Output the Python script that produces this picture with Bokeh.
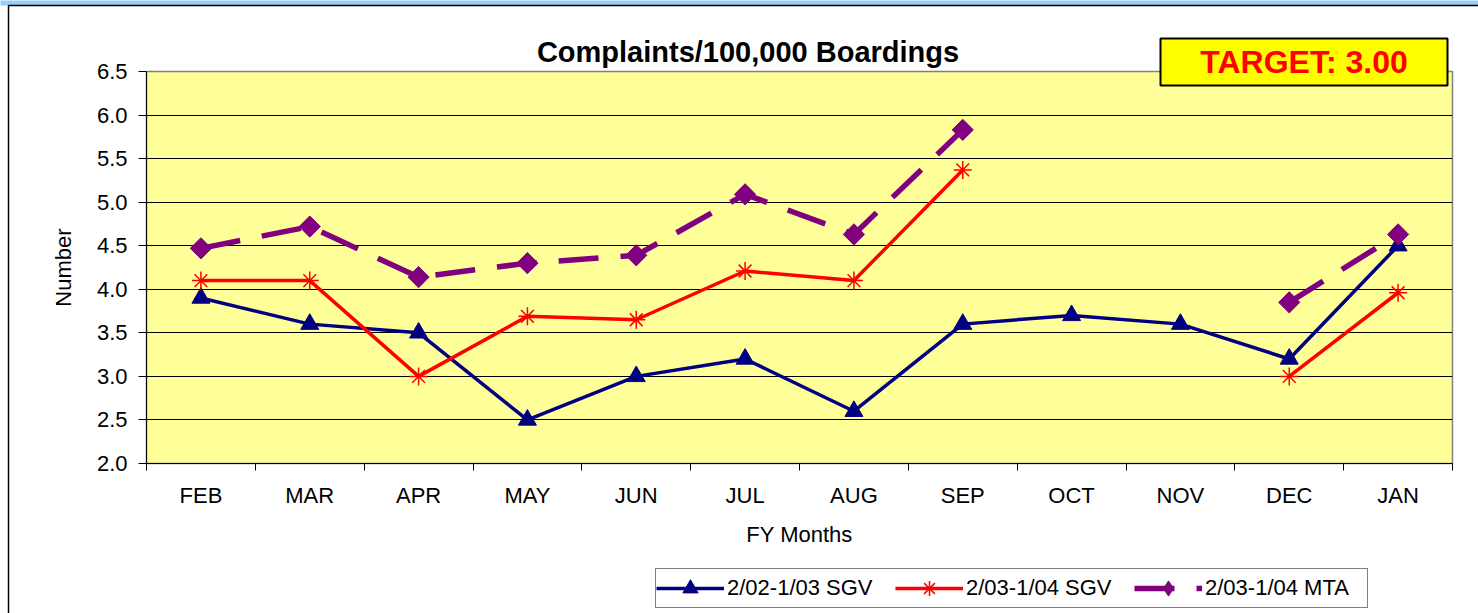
import math
from bokeh.plotting import figure
from bokeh.models import (FixedTicker, Label, Legend, LegendItem, ColumnDataSource,
                          BoxAnnotation, GridBox, Range1d, Column)
from bokeh.embed import file_html
from bokeh.resources import INLINE

# ---- data ----
months = ["FEB", "MAR", "APR", "MAY", "JUN", "JUL", "AUG", "SEP", "OCT", "NOV", "DEC", "JAN"]
nan = float("nan")
sgv_0203 = [3.9, 3.6, 3.5, 2.5, 3.0, 3.2, 2.6, 3.6, 3.7, 3.6, 3.2, 4.5]
sgv_0304 = [4.1, 4.1, 3.0, 3.69, 3.65, 4.21, 4.1, 5.37, nan, nan, 3.0, 3.96]
mta_0304 = [4.47, 4.72, 4.14, 4.30, 4.39, 5.09, 4.63, 5.83, nan, nan, 3.85, 4.63]
y_ticks = [2.0, 2.5, 3.0, 3.5, 4.0, 4.5, 5.0, 5.5, 6.0, 6.5]
y_tick_labels = ["2.0", "2.5", "3.0", "3.5", "4.0", "4.5", "5.0", "5.5", "6.0", "6.5"]
series_names = ["2/02-1/03 SGV", "2/03-1/04 SGV", "2/03-1/04 MTA"]
title_text = "Complaints/100,000 Boardings"
target_text = "TARGET: 3.00"

FONT = "Liberation Sans"
W, H = 1478, 613
FX0, FX1, FY0, FY1 = 146, 1452, 71, 463
YMIN, YMAX = 2.0, 6.5
NX = len(months)

STYLE = {
    "a": dict(line=dict(line_color="#000080", line_width=3.5),
              mark=dict(marker="triangle", size=18, fill_color="#000080", line_color="#000080")),
    "b": dict(line=dict(line_color="#FF0000", line_width=3.5),
              mark=dict(marker="asterisk", size=18, line_color="#FF0000", line_width=1.5)),
    "c": dict(line=dict(line_color="#800080", line_width=5.5, line_dash="40 22"),
              mark=dict(marker="square", angle=math.pi / 4, size=15,
                        fill_color="#800080", line_color="#800080")),
}
LEGEND_MARK = {"a": {}, "b": {}, "c": dict(marker="diamond", angle=0)}

xs = [i + 0.5 for i in range(NX)]
src = ColumnDataSource(dict(x=xs, a=sgv_0203, b=sgv_0304, c=mta_0304))

# ---------------- main chart ----------------
p = figure(width=W, height=H, output_backend="svg", toolbar_location=None,
           x_range=(0, NX), y_range=(YMIN, YMAX),
           min_border_left=FX0, min_border_right=W - FX1,
           min_border_top=FY0, min_border_bottom=H - FY1)
p.title.visible = False
p.background_fill_color = "#FFFF99"
p.border_fill_color = "white"
p.outline_line_color = "#808080"
p.outline_line_width = 1.5

p.xgrid.visible = False
p.ygrid.ticker = FixedTicker(ticks=y_ticks)
p.ygrid.grid_line_color = "black"
p.ygrid.grid_line_width = 1

xa = p.xaxis[0]
xa.ticker = FixedTicker(ticks=xs, minor_ticks=list(range(NX + 1)))
xa.major_label_overrides = {x: m for x, m in zip(xs, months)}
xa.major_tick_line_color = None
xa.major_tick_out = 7
xa.major_tick_in = 0
xa.minor_tick_line_color = "black"
xa.minor_tick_out = 7
xa.minor_tick_in = 0
xa.axis_line_color = "black"
xa.major_label_text_font = FONT
xa.major_label_text_font_size = "22px"
xa.major_label_text_color = "black"
xa.major_label_standoff = 12
xa.axis_label = "FY Months"
xa.axis_label_text_font = FONT
xa.axis_label_text_font_size = "22px"
xa.axis_label_text_font_style = "normal"
xa.axis_label_text_color = "black"
xa.axis_label_standoff = 11

ya = p.yaxis[0]
ya.ticker = FixedTicker(ticks=y_ticks)
ya.major_label_overrides = {t: l for t, l in zip(y_ticks, y_tick_labels)}
ya.major_tick_out = 8
ya.major_tick_in = 0
ya.major_tick_line_color = "black"
ya.minor_tick_line_color = None
ya.axis_line_color = "black"
ya.major_label_text_font = FONT
ya.major_label_text_font_size = "22px"
ya.major_label_text_color = "black"
ya.major_label_standoff = 11
ya.axis_label = "Number"
ya.axis_label_text_font = FONT
ya.axis_label_text_font_size = "22px"
ya.axis_label_text_font_style = "normal"
ya.axis_label_text_color = "black"
ya.axis_label_standoff = 18

for key in ["a", "b", "c"]:
    p.line("x", key, source=src, **STYLE[key]["line"])
    p.scatter("x", key, source=src, **STYLE[key]["mark"])

# ---------------- overlay (title, target box, legend, chart-area frame) ----------------
o = figure(width=W, height=H, output_backend="svg", toolbar_location=None,
           x_range=Range1d(0, W), y_range=Range1d(H, 0),
           min_border=0, x_axis_location=None, y_axis_location=None)
o.title.visible = False
o.grid.visible = False
o.border_fill_alpha = 0
o.background_fill_alpha = 0
o.outline_line_color = None

o.add_layout(BoxAnnotation(left=-5, right=W + 5, top=-5, bottom=5,
                           fill_color="#99CCFF", fill_alpha=1, line_color=None))
o.add_layout(BoxAnnotation(left=8, right=W + 20, top=5, bottom=H + 20,
                           fill_alpha=0, line_color="black", line_alpha=1,
                           line_width=1.5))

o.add_layout(Label(x=747.5, y=51, text=title_text, text_align="center",
                   text_baseline="alphabetic", text_font=FONT, text_font_size="29px",
                   text_font_style="bold", text_color="black"))

o.add_layout(BoxAnnotation(left=1160, right=1447, top=38, bottom=85,
                           fill_color="#FFFF00", fill_alpha=1, line_color="black",
                           line_alpha=1, line_width=2))
o.add_layout(Label(x=1303.5, y=61, text=target_text, text_align="center",
                   text_baseline="alphabetic", text_font=FONT, text_font_size="32px",
                   text_font_style="bold", text_color="#FF0000"))

dummy = ColumnDataSource(dict(x=[nan], y=[nan]))
items = []
for key, name in zip(["a", "b", "c"], series_names):
    rl = o.line("x", "y", source=dummy, **STYLE[key]["line"])
    mk = dict(STYLE[key]["mark"])
    mk.update(LEGEND_MARK[key])
    rm = o.scatter("x", "y", source=dummy, **mk)
    items.append(LegendItem(label=name, renderers=[rl, rm]))

legend = Legend(items=items, orientation="horizontal", location=(655, H - 608))
legend.label_text_font = FONT
legend.label_text_font_size = "22px"
legend.label_text_color = "black"
legend.glyph_width = 68
legend.glyph_height = 38
legend.label_height = 38
legend.label_standoff = 3
legend.label_width = 162
legend.spacing = 6
legend.padding = 0
legend.margin = 0
legend.border_line_color = "black"
legend.border_line_width = 1
legend.background_fill_color = "white"
legend.background_fill_alpha = 1
o.add_layout(legend, "center")

layout = GridBox(children=[(Column(children=[p], width=W, height=H), 0, 0),
                           (Column(children=[o], width=W, height=H), 0, 0)],
                 width=W, height=H)

open("out.html", "w").write(file_html(layout, INLINE))
